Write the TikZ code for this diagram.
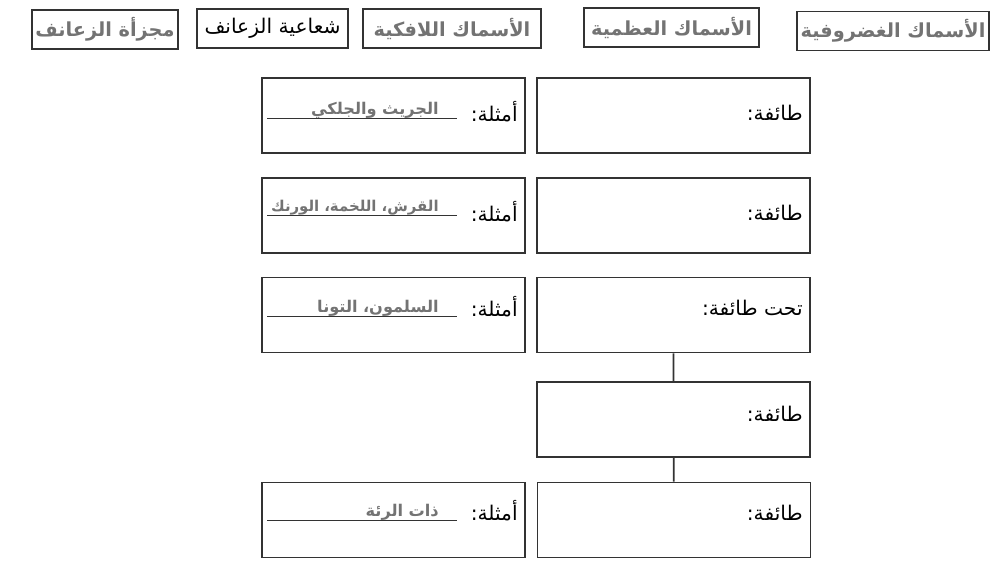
\documentclass[tikz,border=0pt]{standalone}
\usepackage{fontspec}
\newfontfamily\arabicfont[Script=Arabic]{DejaVu Sans}
\TeXXeTstate=1
\begin{document}
\begin{tikzpicture}[x=0.02cm,y=-0.02cm]
  \tikzset{word/.style={draw=black!80,line width=1pt,minimum height=0.78cm,inner sep=2pt,text=black!55,font=\arabicfont\bfseries\fontsize{11}{13}\selectfont},
    rank/.style={draw=black!80,line width=1pt,minimum width=5.46cm,minimum height=1.5cm},
    sample/.style={draw=black!80,line width=1pt,minimum width=5.26cm,minimum height=1.5cm},
    rankname/.style={anchor=east,inner sep=0pt,font=\arabicfont\fontsize{11.5}{14}\selectfont},
    answer/.style={anchor=south east,inner xsep=0pt,inner ysep=0.5pt,text depth=1.5pt,text width=3.78cm,align=right,text=black!55,font=\arabicfont\bfseries\fontsize{9.2}{11}\selectfont}};
  \useasboundingbox (0,0) rectangle (1000,567);
  \node[word,minimum width=2.76cm](Lobe) at (105,29.5){\beginR مجزأة الزعانف\endR};
  \node[word,minimum width=3.02cm,text=black,font=\arabicfont\fontsize{11.5}{13}\selectfont](Ray) at (272.5,28.5){\beginR شعاعية الزعانف\endR};
  \node[word,minimum width=3.56cm](Jawless) at (452,28.5){\beginR الأسماك اللافكية\endR};
  \node[word,minimum width=3.5cm](Bony) at (671.5,27.5){\beginR الأسماك العظمية\endR};
  \node[word,minimum width=3.8cm](Cart) at (893,31){\beginR الأسماك الغضروفية\endR};
  \node[rank](ClassA) at (673.5,115.5){};
  \node[rank](ClassB) at (673.5,215.5){};
  \node[rank](SubClass) at (673.5,315){};
  \node[rank](ClassC) at (673.5,419.5){};
  \node[rank](ClassD) at (674,520){};
  \node[sample](ExA) at (393.5,115.5){};
  \node[sample](ExB) at (393.5,215.5){};
  \node[sample](ExC) at (393.5,315){};
  \node[sample](ExD) at (393.5,520){};
  \draw[black!80,line width=1pt] (SubClass) -- (ClassC) (ClassC) -- (ClassD);
  \node[rankname](NameA) at (803,113){\beginR طائفة:\endR};
  \node[rankname](NameB) at (803,213){\beginR طائفة:\endR};
  \node[rankname](NameC) at (803,308){\beginR تحت طائفة:\endR};
  \node[rankname](NameD) at (803,414){\beginR طائفة:\endR};
  \node[rankname](NameE) at (803,513){\beginR طائفة:\endR};
  \node[rankname](ForA) at (518,112){\beginR أمثلة:\endR};
  \node[rankname](ForB) at (518,212){\beginR أمثلة:\endR};
  \node[rankname](ForC) at (518,307){\beginR أمثلة:\endR};
  \node[rankname](ForD) at (518,511){\beginR أمثلة:\endR};
  \node[answer](AnsA) at (457,118){\beginR الجريث والجلكي\endR\kern0.36cm};
  \node[answer,font=\arabicfont\bfseries\fontsize{8.5}{10}\selectfont](AnsB) at (457,215){\beginR القرش، اللخمة، الورنك\endR\kern0.36cm};
  \node[answer](AnsC) at (457,316){\beginR السلمون، التونا\endR\kern0.36cm};
  \node[answer](AnsD) at (457,520){\beginR ذات الرئة\endR\kern0.36cm};
  \draw[black!80] (AnsA.south west) -- (AnsA.south east) (AnsB.south west) -- (AnsB.south east);
  \draw[black!80] (AnsC.south west) -- (AnsC.south east) (AnsD.south west) -- (AnsD.south east);
\end{tikzpicture}
\end{document}
